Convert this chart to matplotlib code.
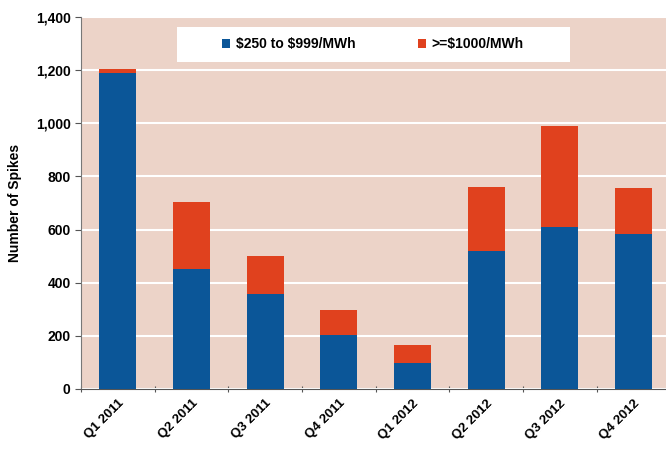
import numpy as np
from matplotlib import pyplot as plt
from matplotlib.patches import Rectangle

plt.rcParams['font.family'] = ['Liberation Sans', 'DejaVu Sans']

# data
quarters = ['Q1 2011', 'Q2 2011', 'Q3 2011', 'Q4 2011',
            'Q1 2012', 'Q2 2012', 'Q3 2012', 'Q4 2012']
low_spikes = [1190, 450, 357, 203, 99, 521, 611, 584]    # $250 to $999/MWh
high_spikes = [15, 254, 143, 96, 65, 239, 377, 171]     # >=$1000/MWh

blue = '#0b5698'
red = '#e0411e'
bg = '#ecd3c8'

fig = plt.figure(figsize=(6.66, 4.53), dpi=100)
ax = fig.add_axes([0.1215, 0.1413, 0.885, 0.8214])
ax.set_facecolor(bg)

x = np.arange(len(quarters))
ax.bar(x, low_spikes, width=0.5, color=blue, zorder=3, label=r'\$250 to \$999/MWh')
ax.bar(x, high_spikes, width=0.5, bottom=low_spikes, color=red, zorder=3,
       label=r'>=\$1000/MWh')

ax.set_xlim(-0.5, len(quarters) - 0.5)
ax.set_ylim(0, 1400)
ax.set_yticks(np.arange(0, 1401, 200))
ax.set_yticklabels(['{:,}'.format(v) for v in range(0, 1401, 200)])
ax.yaxis.grid(True, color='white', linewidth=1.5, zorder=1)
ax.set_axisbelow(True)

# tick marks sit between categories, labels at centers
ax.set_xticks(np.arange(-0.5, len(quarters) - 0.4, 1))
ax.set_xticklabels([])
ax.set_xticks(x, minor=True)
ax.set_xticklabels(quarters, minor=True, rotation=45, ha='right',
                   rotation_mode='anchor', fontsize=9.5, fontweight='bold')
ax.tick_params(axis='x', which='minor', length=0, pad=6)
ax.tick_params(axis='x', which='major', length=4, direction='inout', color='#555555')
ax.tick_params(axis='y', length=4, color='#555555', labelsize=10)
for lbl in ax.get_yticklabels():
    lbl.set_fontweight('bold')

for side in ['top', 'right']:
    ax.spines[side].set_visible(False)
ax.spines['left'].set_color('#777777')
ax.spines['bottom'].set_color('#555555')

ax.set_ylabel('Number of Spikes', fontsize=10, fontweight='bold', labelpad=10)

# white legend box
box = Rectangle((0.2658, 0.8631), 0.590, 0.0773, transform=fig.transFigure,
                facecolor='white', edgecolor='none', zorder=4, clip_on=False)
ax.add_patch(box)

leg = ax.legend(loc='center', bbox_to_anchor=(0.560, 0.9018),
                bbox_transform=fig.transFigure, ncol=2, frameon=False,
                handlelength=0.6, handleheight=0.6, handletextpad=0.4,
                columnspacing=4.5, prop={'weight': 'bold', 'size': 10})
leg.set_zorder(5)

fig.savefig('out.png', dpi=100)
